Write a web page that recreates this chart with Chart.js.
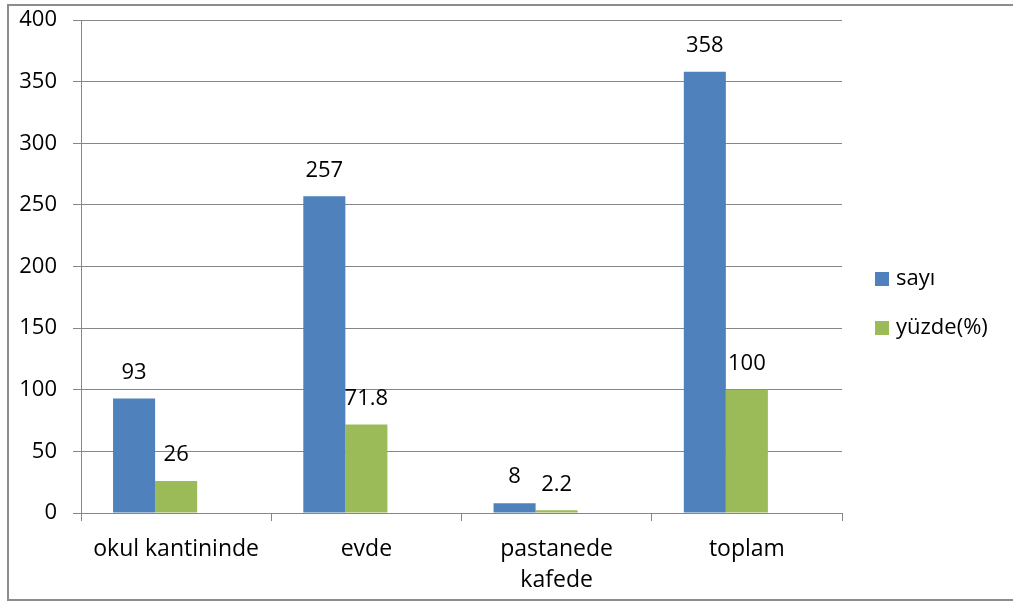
<!DOCTYPE html>
<html>
<head>
<meta charset="utf-8">
<script src="https://cdn.jsdelivr.net/npm/chart.js@4/dist/chart.umd.min.js"></script>
<style>
  html, body { margin: 0; padding: 0; background: #fff; }
  #wrap { position: relative; width: 1013px; height: 602px; }
  canvas { display: block; }
</style>
</head>
<body>
<div id="wrap"><canvas id="c" width="1013" height="602"></canvas></div>
<script>
// Categories and series
const categories = ['okul kantininde', 'evde', ['pastanede', 'kafede'], 'toplam'];
const sayi = [93, 257, 8, 358];
const yuzde = [26, 71.8, 2.2, 100];
// third column slot of each group is left empty
const bosluk = [null, null, null, null];
const yTicks = [0, 50, 100, 150, 200, 250, 300, 350, 400];
const seriesNames = ['sayı', 'yüzde(%)'];

const FONT = "'Open Sans', 'Liberation Sans', sans-serif";
const FSIZE = 22;
const GRID = '#868686';

// Frame around the whole chart (top, left, bottom edges)
const framePlugin = {
  id: 'frame',
  beforeDraw(chart) {
    const ctx = chart.ctx;
    ctx.save();
    ctx.strokeStyle = '#8c8c8c';
    ctx.lineWidth = 2;
    ctx.beginPath();
    ctx.moveTo(1013, 5);
    ctx.lineTo(8, 5);
    ctx.lineTo(8, 600);
    ctx.lineTo(1013, 600);
    ctx.stroke();
    ctx.restore();
  }
};

// Value labels above each bar
const valueLabels = {
  id: 'valueLabels',
  afterDatasetsDraw(chart) {
    const ctx = chart.ctx;
    ctx.save();
    ctx.font = FSIZE + 'px ' + FONT;
    ctx.fillStyle = '#000';
    ctx.textAlign = 'center';
    ctx.textBaseline = 'middle';
    chart.data.datasets.forEach((ds, i) => {
      chart.getDatasetMeta(i).data.forEach((bar, j) => {
        const v = ds.data[j];
        if (v === null || v === undefined) return;
        ctx.fillText(String(v), bar.x, bar.y - 26);
      });
    });
    ctx.restore();
  }
};

// Legend at the right, drawn from the dataset styles
const sideLegend = {
  id: 'sideLegend',
  afterDraw(chart) {
    const ctx = chart.ctx;
    ctx.save();
    ctx.font = FSIZE + 'px ' + FONT;
    ctx.textBaseline = 'middle';
    seriesNames.forEach((name, i) => {
      const ds = chart.data.datasets[i];
      const y = 279 + i * 49;
      ctx.fillStyle = ds.backgroundColor;
      ctx.fillRect(875, y - 7, 14, 14);
      ctx.fillStyle = '#000';
      ctx.fillText(name, 896, y);
    });
    ctx.restore();
  }
};

new Chart(document.getElementById('c'), {
  type: 'bar',
  data: {
    labels: categories,
    datasets: [
      { label: seriesNames[0], data: sayi, backgroundColor: '#4f81bd' },
      { label: seriesNames[1], data: yuzde, backgroundColor: '#9bbb59' },
      { label: '', data: bosluk, backgroundColor: 'rgba(0,0,0,0)' }
    ]
  },
  options: {
    responsive: false,
    animation: false,
    devicePixelRatio: 1,
    layout: { padding: { left: 0, right: 171, top: 20, bottom: 0 } },
    categoryPercentage: 0.663,
    barPercentage: 1,
    plugins: { legend: { display: false }, tooltip: { enabled: false } },
    scales: {
      x: {
        afterFit(axis) { axis.height = 89; axis.paddingLeft = 0; axis.paddingRight = 0; },
        grid: { display: true, drawOnChartArea: false, color: GRID, tickLength: 8, offset: true },
        border: { color: GRID, width: 1 },
        ticks: { color: '#000', font: { family: FONT, size: 23, lineHeight: 1.35 }, padding: 13, maxRotation: 0, autoSkip: false }
      },
      y: {
        min: 0, max: 400,
        afterBuildTicks(axis) { axis.ticks = yTicks.map(v => ({ value: v })); },
        afterFit(axis) { axis.width = 81; axis.paddingTop = 0; axis.paddingBottom = 0; },
        grid: { color: GRID, tickLength: 8 },
        border: { color: GRID, width: 1 },
        ticks: { color: '#000', font: { family: FONT, size: FSIZE }, padding: 16 }
      }
    }
  },
  plugins: [framePlugin, valueLabels, sideLegend]
});
</script>
</body>
</html>
